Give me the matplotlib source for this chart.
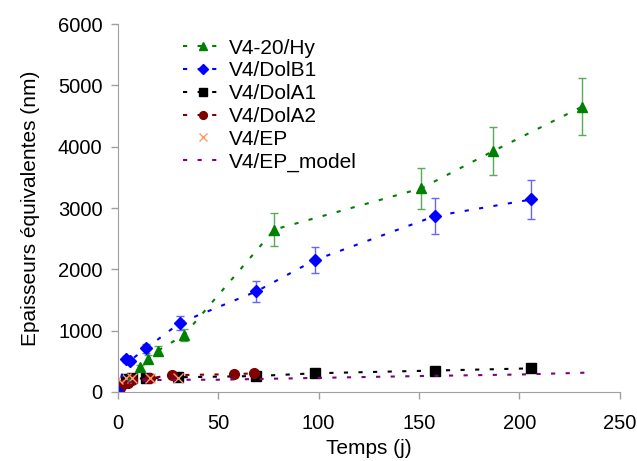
import matplotlib
matplotlib.use('Agg')
from matplotlib import pyplot as plt
import numpy as np

# V4-20/Hy
hy_t = [0, 11, 15, 20, 33, 78, 151, 187, 231]
hy_e = [0, 400, 545, 675, 930, 2650, 3320, 3930, 4650]
hy_err = [0, 40, 55, 68, 93, 265, 335, 395, 465]

# V4/DolB1
b1_t = [0, 4, 6, 14, 31, 69, 98, 158, 206]
b1_e = [0, 540, 510, 710, 1130, 1640, 2150, 2870, 3140]
b1_err = [0, 54, 51, 71, 115, 165, 215, 290, 315]

# V4/DolA1
a1_t = [0, 4, 7, 14, 30, 69, 98, 158, 206]
a1_e = [0, 210, 220, 220, 240, 260, 305, 350, 385]

# V4/DolA2
a2_t = [0, 1, 2, 5, 7, 16, 27, 58, 68]
a2_e = [0, 60, 110, 140, 190, 225, 275, 290, 305]

# V4/EP
ep_t = [0, 4, 7, 16, 30]
ep_e = [210, 220, 230, 220, 230]

# V4/EP_model
mod_t = [0, 2, 5, 10, 20, 35, 50, 75, 100, 133, 160, 200, 233]
mod_e = [0, 100, 150, 180, 195, 200, 200, 215, 230, 250, 265, 285, 315]

plt.rcParams['font.family'] = ['Liberation Sans', 'DejaVu Sans']

fig = plt.figure(figsize=(6.37, 4.61), dpi=100)
ax = fig.add_axes([0.185, 0.1497, 0.788, 0.798])

dots = (0, (2, 5))
lw = 1.5
h_hy = ax.errorbar(hy_t, hy_e, yerr=hy_err, color='green', ecolor='#5aaa5a',
                   elinewidth=1, capsize=3, capthick=1, marker='^', markersize=7,
                   linestyle=dots, linewidth=lw, label='V4-20/Hy')
h_b1 = ax.errorbar(b1_t, b1_e, yerr=b1_err, color='blue', ecolor='#6666ff',
                   elinewidth=1, capsize=3, capthick=1, marker='D', markersize=6,
                   linestyle=dots, linewidth=lw, label='V4/DolB1')
h_a1, = ax.plot(a1_t, a1_e, color='black', marker='s', markersize=7,
                linestyle=dots, linewidth=lw, label='V4/DolA1')
h_a2, = ax.plot(a2_t, a2_e, color='#800000', marker='o', markersize=7,
                linestyle=dots, linewidth=lw, label='V4/DolA2')
h_ep, = ax.plot(ep_t, ep_e, color='#ff9966', marker='x', markersize=7,
                linestyle='none', markeredgewidth=1, label='V4/EP')
h_mod, = ax.plot(mod_t, mod_e, color='#800080', linestyle=dots, linewidth=lw,
                 label='V4/EP_model')

ax.set_xlim(0, 250)
ax.set_ylim(0, 6000)
ax.set_xticks([0, 50, 100, 150, 200, 250])
ax.set_yticks([0, 1000, 2000, 3000, 4000, 5000, 6000])

for s in ['top', 'right']:
    ax.spines[s].set_visible(False)
for s in ['left', 'bottom']:
    ax.spines[s].set_color('#a0a0a0')
ax.tick_params(colors='#a0a0a0', labelcolor='black', labelsize=14.5,
               length=5, width=1)
ax.tick_params(axis='x', pad=11)
ax.tick_params(axis='y', pad=6)

ax.set_xlabel('Temps (j)', fontsize=15, labelpad=4)
ax.set_ylabel('Epaisseurs équivalentes (nm)', fontsize=15, labelpad=13)

# legend without the error bars, as in the original
handles = [h_hy[0], h_b1[0], h_a1, h_a2, h_ep, h_mod]
labels = ['V4-20/Hy', 'V4/DolB1', 'V4/DolA1', 'V4/DolA2', 'V4/EP',
          'V4/EP_model']
ax.legend(handles, labels, loc='upper left', bbox_to_anchor=(0.1, 1.0),
          frameon=False, fontsize=15, handlelength=2.0, handletextpad=0.2,
          labelspacing=0.18, borderaxespad=0.3, markerscale=0.8)

fig.savefig('out.png', dpi=100)
